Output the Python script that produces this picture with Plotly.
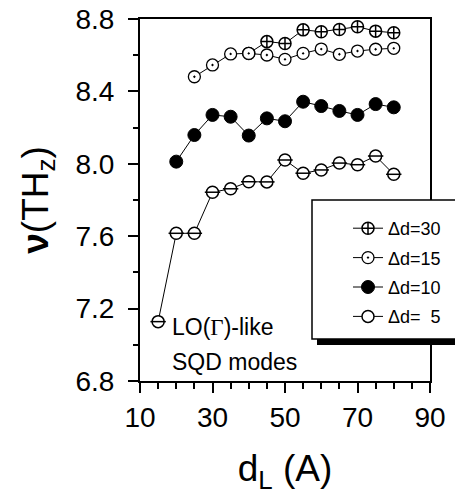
import plotly.graph_objects as go

# data
x30 = [40, 45, 50, 55, 60, 65, 70, 75, 80]
y30 = [8.61, 8.675, 8.665, 8.74, 8.73, 8.742, 8.757, 8.733, 8.724]

x15 = [25, 30, 35, 40, 45, 50, 55, 60, 65, 70, 75, 80]
y15 = [8.481, 8.546, 8.607, 8.61, 8.601, 8.577, 8.61, 8.634, 8.605, 8.623, 8.633, 8.638]

x10 = [20, 25, 30, 35, 40, 45, 50, 55, 60, 65, 70, 75, 80]
y10 = [8.012, 8.159, 8.27, 8.26, 8.156, 8.251, 8.235, 8.343, 8.319, 8.292, 8.27, 8.33, 8.312]

x5 = [15, 20, 25, 30, 35, 40, 45, 50, 55, 60, 65, 70, 75, 80]
y5 = [7.128, 7.616, 7.616, 7.843, 7.862, 7.901, 7.90, 8.021, 7.948, 7.966, 8.004, 7.995, 8.043, 7.942]

names = ["\u0394d=30", "\u0394d=15", "\u0394d=10", "\u0394d=\u00a0\u00a05"]
x_ticks = [10, 30, 50, 70, 90]
y_ticks = [6.8, 7.2, 7.6, 8.0, 8.4, 8.8]

fig = go.Figure()
line = dict(color="black", width=1)

fig.add_trace(go.Scatter(x=x30, y=y30, name=names[0], mode="lines+markers", legendgroup="a",
                         line=line,
                         marker=dict(symbol="circle-cross", size=12, color="white",
                                     line=dict(color="black", width=1.5))))
fig.add_trace(go.Scatter(x=x15, y=y15, name=names[1], mode="lines+markers", legendgroup="b",
                         line=line,
                         marker=dict(symbol="circle-dot", size=12, color="white",
                                     line=dict(color="black", width=1.3))))
fig.add_trace(go.Scatter(x=x10, y=y10, name=names[2], mode="lines+markers", legendgroup="c",
                         line=line,
                         marker=dict(symbol="circle", size=13, color="black",
                                     line=dict(color="black", width=1))))
fig.add_trace(go.Scatter(x=x5, y=y5, name=names[3], mode="lines+markers", legendgroup="d",
                         line=line,
                         marker=dict(symbol="circle", size=12, color="white",
                                     line=dict(color="black", width=1.5))))
fig.add_trace(go.Scatter(x=x5, y=y5, mode="markers", showlegend=False, legendgroup="d",
                         marker=dict(symbol="line-ew", size=11, color="black",
                                     line=dict(color="black", width=1.5))))

font = "Liberation Sans, Arial, sans-serif"

def px(x):
    return (x - 140) / 290

def py(y):
    return (381 - y) / 362

# legend drop shadow and legend box
fig.add_shape(type="rect", xref="paper", yref="paper",
              x0=px(317), x1=px(490), y0=py(345), y1=py(206),
              fillcolor="black", line=dict(width=0), layer="above")
fig.add_shape(type="rect", xref="paper", yref="paper",
              x0=px(312), x1=px(485), y0=py(339), y1=py(200),
              fillcolor="white", line=dict(color="black", width=1.5), layer="above")

fig.add_annotation(text="LO(<span style='font-family:Liberation Serif'>\u0393</span>)-like",
                   xref="paper", yref="paper", x=px(170), y=py(327),
                   xanchor="left", yanchor="middle", showarrow=False,
                   font=dict(family=font, size=23, color="black"))
fig.add_annotation(text="SQD modes",
                   xref="paper", yref="paper", x=px(170), y=py(362),
                   xanchor="left", yanchor="middle", showarrow=False,
                   font=dict(family=font, size=23, color="black"))

# page body has an 8px margin, so the figure is 8px smaller than the window
fig.update_layout(
    width=455, height=491,
    margin=dict(l=132, r=33, t=11, b=118, autoexpand=False),
    paper_bgcolor="white", plot_bgcolor="white",
    font=dict(family=font, color="black"),
    legend=dict(x=px(348), y=py(210), xanchor="left", yanchor="top",
                bgcolor="rgba(0,0,0,0)", borderwidth=0,
                font=dict(family=font, size=18, color="black"),
                tracegroupgap=3, traceorder="grouped"),
    xaxis=dict(range=[10, 90], tickvals=x_ticks, ticks="outside", ticklen=10, tickwidth=2,
               tickcolor="black", showline=True, linecolor="black", linewidth=2, mirror=True,
               showgrid=False, zeroline=False, tickfont=dict(size=28), automargin=False,
               ticklabeloverflow="allow",
               minor=dict(dtick=5, ticks="outside", ticklen=6, tickwidth=1.5, tickcolor="black"),
               title=dict(text="d<sub>L</sub>\u00a0(A)", font=dict(size=37), standoff=24)),
    yaxis=dict(range=[6.8, 8.8], tickvals=y_ticks, tickformat=".1f", ticks="outside",
               ticklen=10, tickwidth=2, tickcolor="black", showline=True, linecolor="black",
               linewidth=2, mirror=True, showgrid=False, zeroline=False, automargin=False,
               tickfont=dict(size=28), ticklabelstandoff=8, ticklabeloverflow="allow",
               minor=dict(dtick=0.2, ticks="outside", ticklen=5, tickwidth=1.5, tickcolor="black"),
               title=dict(text="<b>\u03bd</b>(TH<sub>z</sub>)",
                          font=dict(size=37), standoff=16)),
)

fig.write_html("out.html")
